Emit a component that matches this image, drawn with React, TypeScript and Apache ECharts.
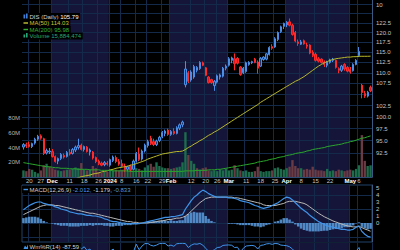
import React, { useEffect, useRef } from "react";
import * as echarts from "echarts";

// ---------- data ----------
const dates: string[] = [
  "2023-11-16","2023-11-17","2023-11-20","2023-11-21","2023-11-22","2023-11-24","2023-11-27","2023-11-28","2023-11-29","2023-11-30",
  "2023-12-01","2023-12-04","2023-12-05","2023-12-06","2023-12-07","2023-12-08","2023-12-11","2023-12-12","2023-12-13","2023-12-14",
  "2023-12-15","2023-12-18","2023-12-19","2023-12-20","2023-12-21","2023-12-22","2023-12-26","2023-12-27","2023-12-28","2023-12-29",
  "2024-01-02","2024-01-03","2024-01-04","2024-01-05","2024-01-08","2024-01-09","2024-01-10","2024-01-11","2024-01-12","2024-01-16",
  "2024-01-17","2024-01-18","2024-01-19","2024-01-22","2024-01-23","2024-01-24","2024-01-25","2024-01-26","2024-01-29","2024-01-30",
  "2024-01-31","2024-02-01","2024-02-02","2024-02-05","2024-02-06","2024-02-07","2024-02-08","2024-02-09","2024-02-12","2024-02-13",
  "2024-02-14","2024-02-15","2024-02-16","2024-02-20","2024-02-21","2024-02-22","2024-02-23","2024-02-26","2024-02-27","2024-02-28",
  "2024-02-29","2024-03-01","2024-03-04","2024-03-05","2024-03-06","2024-03-07","2024-03-08","2024-03-11","2024-03-12","2024-03-13",
  "2024-03-14","2024-03-15","2024-03-18","2024-03-19","2024-03-20","2024-03-21","2024-03-22","2024-03-25","2024-03-26","2024-03-27",
  "2024-03-28","2024-04-01","2024-04-02","2024-04-03","2024-04-04","2024-04-05","2024-04-08","2024-04-09","2024-04-10","2024-04-11",
  "2024-04-12","2024-04-15","2024-04-16","2024-04-17","2024-04-18","2024-04-19","2024-04-22","2024-04-23","2024-04-24","2024-04-25",
  "2024-04-26","2024-04-29","2024-04-30","2024-05-01","2024-05-02","2024-05-03","2024-05-06","2024-05-07","2024-05-08","2024-05-09",
  "2024-05-10",
];

// [open, high, low, close]
const ohlc: number[][] = [
  [93.7,94.5,93.2,94.2],[94.2,94.6,93.5,93.9],[94.2,94.8,93.6,93.8],[93.8,94.6,93.5,94.4],[94.5,95.6,94.2,95.3],[95.3,96.2,95.0,95.9],[96.0,96.3,95.2,95.5],[95.4,95.6,92.1,92.4],[92.5,93.4,92.2,93.0],[92.7,93.5,92.3,92.9],
  [92.8,93.3,91.6,91.8],[91.8,92.0,90.6,90.8],[90.9,91.6,90.3,91.4],[91.4,92.5,91.1,92.2],[92.0,92.4,91.4,91.7],[91.8,92.9,91.6,92.6],[92.6,93.3,92.0,92.3],[92.4,93.5,92.2,93.2],[93.1,94.0,92.7,93.7],[93.6,95.4,93.2,94.0],
  [94.1,94.4,93.0,93.2],[93.2,94.0,92.8,93.8],[93.7,93.9,92.6,92.8],[92.7,93.4,92.0,93.1],[92.7,92.9,91.2,91.5],[91.6,91.8,90.5,90.8],[90.9,91.2,90.1,90.4],[90.5,90.8,89.9,90.1],[90.2,90.9,89.9,90.6],[90.5,90.9,90.0,90.3],
  [90.1,91.4,89.8,91.2],[91.0,92.0,90.7,91.7],[91.6,92.0,90.5,90.8],[90.8,91.3,90.0,90.3],[90.4,91.2,89.6,89.9],[89.9,90.4,88.8,89.3],[89.3,90.0,88.9,89.8],[89.9,90.2,88.9,89.2],[89.3,91.2,89.1,90.9],[90.9,92.7,90.6,92.4],
  [92.3,93.6,90.9,91.2],[91.3,93.2,91.0,92.9],[92.9,94.4,92.6,94.1],[94.0,95.2,93.6,94.8],[95.5,96.0,94.1,94.4],[94.8,95.4,93.9,94.2],[94.2,95.2,93.9,94.9],[95.0,96.0,94.7,95.7],[95.8,97.0,95.5,96.7],[96.5,97.3,95.9,97.0],
  [97.2,97.5,96.0,96.3],[96.3,97.2,96.0,96.9],[96.9,97.6,96.2,96.5],[96.5,98.0,96.3,97.7],[97.6,98.6,97.2,98.3],[98.3,99.2,97.8,98.9],[107.2,112.8,106.6,110.9],[110.0,110.4,107.6,108.0],[108.3,110.6,107.9,110.2],[109.0,111.9,108.6,111.5],
  [110.6,111.6,110.1,111.3],[111.0,112.8,110.7,112.5],[112.4,112.7,111.6,111.8],[111.2,111.4,109.2,109.4],[109.0,109.2,107.5,107.7],[108.4,108.6,107.4,107.7],[107.0,108.3,105.8,108.0],[107.8,109.6,107.5,109.3],[109.0,109.8,108.4,109.5],[109.2,111.4,108.9,111.1],
  [111.1,112.0,110.6,111.6],[111.8,113.8,111.5,113.4],[113.0,113.9,112.3,113.6],[113.4,114.7,110.6,112.2],[113.5,113.8,112.0,112.3],[111.4,111.6,109.3,109.6],[110.0,111.4,109.7,111.1],[110.3,112.7,110.0,112.4],[112.0,112.8,111.7,112.5],[112.4,112.9,112.1,112.7],
  [113.3,113.6,112.3,112.5],[112.6,113.0,109.8,111.1],[111.6,113.8,111.4,113.5],[113.2,114.0,112.9,113.8],[113.3,114.8,113.0,114.6],[114.4,116.5,114.2,116.2],[116.4,117.0,115.6,116.0],[116.3,118.8,116.1,118.4],[118.2,120.3,117.8,120.0],[120.2,121.8,119.9,121.5],
  [121.6,122.6,120.9,122.4],[122.0,123.0,121.4,122.7],[122.8,123.7,121.6,121.9],[121.9,122.3,119.2,119.5],[120.0,120.4,117.5,117.8],[117.6,118.2,116.6,117.2],[117.0,118.1,116.8,117.6],[117.9,118.2,116.9,117.1],[116.8,117.4,115.9,116.5],[116.8,117.0,114.5,114.8],
  [115.0,115.5,113.8,114.2],[114.5,114.9,112.7,113.0],[113.4,113.8,112.5,112.8],[113.3,113.5,112.2,112.5],[112.6,113.0,111.4,112.0],[111.8,112.9,111.3,112.6],[112.5,113.4,112.2,113.1],[113.0,113.6,112.6,113.3],[113.0,113.2,111.0,111.3],[111.0,111.3,109.9,110.6],
  [110.6,111.9,110.2,111.6],[112.0,112.3,110.5,110.9],[111.3,111.6,110.1,110.4],[110.8,111.4,109.8,110.2],[110.5,112.3,110.3,112.0],[112.0,113.3,111.8,113.0],[114.2,116.3,113.8,115.2],[107.1,107.4,104.1,105.4],[105.2,105.8,104.2,104.6],[104.6,105.8,104.3,105.5],
  [106.6,107.0,105.5,105.79],
];

// volume, millions of shares
const volumeM: number[] = [
  9, 8, 11, 10, 7, 5, 9, 16, 18, 14,
  12, 10, 9, 8, 9, 10, 10, 11, 13, 12,
  19, 10, 9, 10, 15, 12, 7, 6, 7, 7,
  10, 9, 10, 9, 10, 11, 9, 10, 9, 12,
  11, 9, 13, 16, 18, 14, 20, 15, 13, 12,
  12, 11, 12, 13, 14, 20, 61, 30, 22, 18,
  12, 10, 12, 13, 9, 8, 9, 8, 10, 9,
  11, 9, 10, 16, 12, 9, 8, 9, 7, 7,
  8, 14, 8, 7, 8, 8, 9, 12, 13, 11,
  10, 12, 14, 23, 15, 12, 12, 10, 11, 10,
  14, 10, 9, 9, 8, 11, 8, 9, 8, 10,
  9, 8, 9, 10, 9, 11, 16, 57, 22, 15,
  15.884474,
];

const ma50: number[] = [
  85.4, 85.5, 85.6, 85.7, 85.8, 86.0, 86.1, 86.2, 86.3, 86.5,
  86.6, 86.7, 86.8, 86.9, 87.0, 87.1, 87.3, 87.4, 87.5, 87.7,
  87.9, 88.0, 88.1, 88.2, 88.4, 88.5, 88.6, 88.8, 88.9, 89.0,
  89.2, 89.3, 89.5, 89.6, 89.7, 89.8, 89.9, 90.1, 90.2, 90.4,
  90.6, 90.8, 91.0, 91.3, 91.5, 91.7, 91.9, 92.1, 92.3, 92.4,
  92.5, 92.6, 92.7, 92.8, 92.8, 92.9, 93.2, 93.6, 93.9, 94.3,
  94.6, 95.0, 95.3, 95.7, 96.1, 96.4, 96.8, 97.1, 97.5, 97.9,
  98.3, 98.7, 99.1, 99.5, 99.9, 100.3, 100.7, 101.1, 101.5, 101.9,
  102.3, 102.7, 103.2, 103.6, 104.0, 104.4, 104.8, 105.2, 105.6, 106.0,
  106.4, 106.8, 107.2, 107.6, 108.0, 108.3, 108.7, 109.1, 109.6, 110.1,
  110.6, 111.1, 111.6, 112.0, 112.4, 112.7, 113.0, 113.2, 113.4, 113.5,
  113.6, 113.7, 113.8, 113.8, 113.9, 113.9, 114.0, 114.0, 114.0, 114.0,
  114.03,
];

const ma200: number[] = [
  90.6, 90.5, 90.4, 90.3, 90.2, 90.1, 90.0, 89.9, 89.8, 89.8,
  89.7, 89.6, 89.6, 89.5, 89.5, 89.5, 89.4, 89.4, 89.4, 89.3,
  89.3, 89.3, 89.3, 89.2, 89.2, 89.2, 89.2, 89.1, 89.1, 89.1,
  89.1, 89.0, 89.0, 89.0, 89.0, 89.0, 89.0, 88.9, 88.9, 88.9,
  88.9, 88.9, 88.9, 88.9, 88.9, 88.9, 88.9, 88.9, 88.9, 88.9,
  88.9, 88.9, 88.9, 88.9, 88.9, 88.9, 89.0, 89.0, 89.0, 89.0,
  89.1, 89.1, 89.1, 89.1, 89.2, 89.2, 89.2, 89.3, 89.3, 89.4,
  89.5, 89.6, 89.7, 89.8, 89.9, 90.0, 90.1, 90.2, 90.3, 90.4,
  90.5, 90.7, 90.8, 90.9, 91.0, 91.2, 91.3, 91.4, 91.6, 91.7,
  91.8, 92.0, 92.1, 92.2, 92.4, 92.5, 92.6, 92.7, 92.9, 93.0,
  93.2, 93.3, 93.4, 93.5, 93.6, 93.8, 93.9, 94.0, 94.1, 94.2,
  94.3, 94.5, 94.6, 94.8, 94.9, 95.1, 95.3, 95.5, 95.6, 95.8,
  95.98,
];

const macdLine: number[] = [
  1.9, 2.2, 2.5, 2.7, 2.9, 3.0, 3.0, 2.8, 2.7, 2.6,
  2.5, 2.3, 2.2, 2.0, 1.9, 1.8, 1.6, 1.5, 1.4, 1.3,
  1.3, 1.2, 1.1, 1.1, 1.0, 1.0, 0.9, 0.8, 0.6, 0.5,
  0.3, 0.2, 0.2, 0.1, 0.0, 0.0, -0.1, -0.1, -0.1, -0.1,
  -0.1, 0.0, 0.1, 0.2, 0.3, 0.4, 0.5, 0.6, 0.7, 0.8,
  0.8, 0.9, 0.9, 1.0, 1.1, 1.2, 2.0, 2.6, 3.2, 3.7,
  4.0, 4.4, 4.7, 4.5, 4.2, 4.0, 3.8, 3.7, 3.7, 3.7,
  3.7, 3.6, 3.6, 3.5, 3.4, 3.2, 3.1, 3.0, 2.9, 2.7,
  2.5, 2.4, 2.2, 2.1, 2.2, 2.3, 2.5, 2.7, 2.9, 3.2,
  3.5, 3.7, 3.6, 3.3, 2.9, 2.5, 2.1, 1.8, 1.5, 1.1,
  0.8, 0.5, 0.2, 0.0, -0.2, -0.4, -0.5, -0.6, -0.7, -0.8,
  -0.9, -0.9, -1.0, -1.0, -0.9, -0.6, -0.4, -1.2, -1.6, -1.9,
  -2.012,
];

const signalLine: number[] = [
  1.2, 1.4, 1.6, 1.8, 2.0, 2.2, 2.4, 2.5, 2.6, 2.6,
  2.6, 2.5, 2.5, 2.4, 2.3, 2.2, 2.1, 2.0, 1.9, 1.8,
  1.7, 1.6, 1.5, 1.4, 1.4, 1.3, 1.2, 1.1, 1.0, 0.9,
  0.8, 0.7, 0.6, 0.5, 0.4, 0.3, 0.2, 0.2, 0.1, 0.1,
  0.0, 0.0, 0.0, 0.0, 0.1, 0.1, 0.2, 0.3, 0.3, 0.4,
  0.5, 0.5, 0.6, 0.7, 0.7, 0.8, 1.0, 1.3, 1.7, 2.1,
  2.5, 2.9, 3.2, 3.5, 3.6, 3.7, 3.7, 3.7, 3.7, 3.7,
  3.7, 3.7, 3.7, 3.6, 3.6, 3.5, 3.4, 3.3, 3.2, 3.1,
  3.0, 2.9, 2.8, 2.6, 2.5, 2.5, 2.5, 2.5, 2.6, 2.7,
  2.8, 3.0, 3.1, 3.1, 3.1, 3.0, 2.9, 2.8, 2.6, 2.3,
  2.0, 1.7, 1.4, 1.15, 0.9, 0.7, 0.5, 0.3, 0.15, 0.0,
  -0.15, -0.3, -0.4, -0.5, -0.55, -0.55, -0.5, -0.65, -0.85, -1.0,
  -1.179,
];

const willR: number[] = [
  -15, -25, -18, -15, -8, -5, -20, -75, -55, -60,
  -75, -90, -70, -50, -65, -45, -55, -35, -20, -15,
  -40, -25, -50, -40, -75, -90, -95, -95, -80, -85,
  -55, -40, -70, -80, -90, -95, -85, -95, -60, -8,
  -45, -20, -4, -3, -15, -20, -14, -4, -2, -3,
  -20, -14, -22, -5, -3, -2, -4, -30, -15, -6,
  -8, -3, -14, -35, -55, -55, -45, -30, -28, -16,
  -14, -13, -15, -30, -28, -60, -35, -20, -18, -16,
  -20, -40, -16, -13, -6, -4, -9, -3, -5, -14,
  -16, -18, -25, -40, -60, -62, -55, -60, -70, -85,
  -90, -95, -95, -97, -98, -85, -75, -70, -90, -95,
  -80, -88, -92, -95, -70, -55, -30, -95, -98, -90,
  -87.59,
];

const tickDates: string[] = [
  "2023-11-20","2023-11-27","2023-12-01","2023-12-11","2023-12-18","2023-12-26","2024-01-02","2024-01-08","2024-01-16",
  "2024-01-22","2024-01-29","2024-02-01","2024-02-12","2024-02-20","2024-02-26","2024-03-01","2024-03-11","2024-03-18",
  "2024-03-25","2024-04-01","2024-04-08","2024-04-15","2024-04-22","2024-05-01","2024-05-06",
];
const tickTexts: string[] = [
  "20","27","Dec","11","18","26","2024","8","16",
  "22","29","Feb","12","20","26","Mar","11","18",
  "25","Apr","8","15","22","May","6",
];
const boldTickTexts: string[] = ["Dec", "2024", "Feb", "Mar", "Apr", "May"];
const monthStarts: string[] = ["2023-12-01","2024-01-02","2024-02-01","2024-03-01","2024-04-01","2024-05-01"];

// 105.0 sits under the last-price tag in the reference, so only its grid line is drawn
const priceLabels: number[] = [92.5, 95, 97.5, 100, 102.5, 107.5, 110, 112.5, 115, 117.5, 120, 122.5];
const priceGridValues: number[] = [92.5, 95, 97.5, 100, 102.5, 105, 107.5, 110, 112.5, 115, 117.5, 120, 122.5, 125, 127.5];
const priceRange: number[] = [87.83, 128.74];
const volumeLabels: number[] = [20, 40, 60, 80];
const volumeRange: number[] = [0, 241];
const macdLabels: number[] = [0, 1, 2, 3, 4, 5];
const macdGridValues: number[] = [-2, 0, 2, 4];
const macdRange: number[] = [-2.71, 5.43];

// ---------- styling ----------
const FONT = '"Liberation Sans", Arial, Helvetica, sans-serif';
const GRID_LINE = "#142a4a";
const NAVY = "#15153a";
const AXIS_TEXT = "#c4c4c4";
const ln = Math.log;

function buildOption() {
  const last = dates.length - 1;
  const tickMap: Record<string, string> = {};
  tickDates.forEach((d, k) => (tickMap[d] = tickTexts[k]));
  const monthSet = new Set(monthStarts);
  const isTick = (i: number) => tickMap[dates[i]] !== undefined;
  const isBand = (i: number) => i === 0 || monthSet.has(dates[i]);

  const closes = ohlc.map((r) => r[3]);
  const hist = macdLine.map((m, i) => +(m - signalLine[i]).toFixed(3));

  const xAxis = (gridIndex: number, withLabels: boolean) => ({
    type: "category",
    gridIndex,
    data: dates,
    boundaryGap: true,
    axisTick: { show: false },
    axisLine: { show: withLabels, lineStyle: { color: "#2b4a74", width: 1 } },
    axisLabel: withLabels
      ? {
          show: true,
          interval: (i: number) => isTick(i),
          formatter: (v: string) => {
            const t = tickMap[v];
            if (!t) return "";
            return boldTickTexts.includes(t) ? `{m|${t}}` : t;
          },
          color: AXIS_TEXT,
          fontSize: 6,
          fontFamily: FONT,
          margin: 1,
          rich: { m: { fontWeight: "bold", color: "#ffffff", fontSize: 6, fontFamily: FONT } },
        }
      : { show: false },
    splitLine: { show: true, interval: (i: number) => isTick(i), lineStyle: { color: GRID_LINE, width: 1 } },
    splitArea: { show: true, interval: (i: number) => isBand(i), areaStyle: { color: ["rgba(0,0,0,0)", NAVY] } },
  });

  const tag = (value: number, text: string, s: any) => ({
    silent: true,
    symbol: ["none", "none"],
    precision: 6,
    lineStyle: { opacity: 0, width: 0 },
    emphasis: { disabled: true },
    label: {
      show: true,
      position: "end",
      distance: 0,
      formatter: text,
      color: s.color,
      backgroundColor: s.bg,
      borderColor: s.border,
      borderWidth: 1,
      padding: [1, 2, 0, 2],
      fontSize: 6,
      lineHeight: 6,
      fontFamily: FONT,
      fontWeight: s.bold ? "bold" : "normal",
      offset: s.offset || [0, 0],
    },
    data: [{ yAxis: value }],
  });

  const legendFont = `6px ${FONT}`;
  const legendRow = (y: number, text: string, rich: any, fill: string) => ({
    type: "text",
    x: 22,
    y,
    z: 100,
    silent: true,
    style: {
      text,
      rich,
      fill,
      font: legendFont,
      verticalAlign: "middle",
      backgroundColor: "#000",
      padding: [0.5, 1.5, 0.5, 7.5],
    },
  });
  const r = (fill: string, bold?: boolean) => ({ fill, font: `${bold ? "bold " : ""}${legendFont}` });

  const volText = Math.round(volumeM[last] * 1e6);

  const graphic = [
    legendRow(16.5, `{a|DIS (Daily)} {b|${closes[last].toFixed(2)}}`, { a: r("#d2d2d2"), b: r("#ffffff") }, "#d2d2d2"),
    legendRow(23, `MA(50) ${ma50[last].toFixed(2)}`, null, "#c6c634"),
    legendRow(29.5, `MA(200) ${ma200[last].toFixed(2)}`, null, "#33b033"),
    legendRow(36, `Volume ${volText.toLocaleString("en-US")}`, null, "#25a67a"),
    legendRow(
      189.5,
      `{a|MACD(12,26,9)} {b|${macdLine[last].toFixed(3)},} {c|${signalLine[last].toFixed(3)},} {d|${hist[last].toFixed(3)}}`,
      { a: r("#cfcfcf"), b: r("#4c9cec"), c: r("#d8d8d8"), d: r("#5b9ad6") },
      "#cfcfcf"
    ),
    legendRow(246.5, `{a|Wm%R(14)} {b|${willR[last].toFixed(2)}}`, { a: r("#cfcfcf"), b: r("#d8d8d8") }, "#cfcfcf"),
    { type: "rect", z: 101, silent: true, shape: { x: 23.5, y: 14.5, width: 1.6, height: 4 }, style: { fill: "#3c82dc" } },
    { type: "rect", z: 101, silent: true, shape: { x: 26, y: 13.5, width: 1.6, height: 5 }, style: { fill: "#3c82dc" } },
    { type: "line", z: 101, silent: true, shape: { x1: 23.5, y1: 23, x2: 28, y2: 23 }, style: { stroke: "#c6c634", lineWidth: 1.4 } },
    { type: "line", z: 101, silent: true, shape: { x1: 23.5, y1: 29.5, x2: 28, y2: 29.5 }, style: { stroke: "#33b033", lineWidth: 1.4 } },
    { type: "rect", z: 101, silent: true, shape: { x: 23.5, y: 34.5, width: 1.6, height: 3 }, style: { fill: "#25a67a" } },
    { type: "rect", z: 101, silent: true, shape: { x: 26, y: 33, width: 1.6, height: 4.5 }, style: { fill: "#25a67a" } },
    { type: "line", z: 101, silent: true, shape: { x1: 23.5, y1: 189.5, x2: 28, y2: 189.5 }, style: { stroke: "#3f94ea", lineWidth: 1.4 } },
    {
      type: "polygon", z: 101, silent: true,
      shape: { points: [[23.5, 249], [25, 245.5], [26.5, 247.5], [28, 244.5], [28, 249]] },
      style: { fill: "#3f94ea" },
    },
    { type: "text", x: 376, y: 5, z: 100, silent: true, style: { text: "10", fill: AXIS_TEXT, font: legendFont, verticalAlign: "middle" } },
  ];

  return {
    animation: false,
    backgroundColor: "#000",
    textStyle: { fontFamily: FONT },
    grid: [
      { left: 22, right: 28, top: 0, height: 177, show: false },
      { left: 22, right: 28, top: 185, height: 57, show: true, borderColor: "#22426a", borderWidth: 1, backgroundColor: "transparent" },
      { left: 22, right: 28, top: 243, height: 60, show: false },
    ],
    xAxis: [xAxis(0, true), xAxis(1, false), xAxis(2, false)],
    yAxis: [
      {
        type: "value", gridIndex: 0, position: "right", z: 1,
        min: ln(priceRange[0]), max: ln(priceRange[1]),
        axisLine: { show: true, lineStyle: { color: "#3a5a82" } },
        axisTick: { show: false, customValues: priceGridValues.map(ln) },
        axisLabel: {
          customValues: priceLabels.map(ln),
          formatter: (v: number) => Math.exp(v).toFixed(1),
          color: AXIS_TEXT, fontSize: 6, fontFamily: FONT, margin: 4,
        },
        splitLine: { show: true, lineStyle: { color: GRID_LINE, width: 1 } },
      },
      {
        type: "value", gridIndex: 0, position: "left",
        min: volumeRange[0], max: volumeRange[1],
        axisLine: { show: false }, axisTick: { show: false },
        axisLabel: { customValues: volumeLabels, formatter: (v: number) => `${v}M`, color: "#b4b4b4", fontSize: 6, fontFamily: FONT, margin: 2 },
        splitLine: { show: false },
      },
      {
        type: "value", gridIndex: 1, position: "right", z: 1,
        min: macdRange[0], max: macdRange[1],
        axisLine: { show: true, lineStyle: { color: "#3a5a82" } },
        axisTick: { show: false, customValues: macdGridValues },
        axisLabel: { customValues: macdLabels, formatter: (v: number) => String(v), color: AXIS_TEXT, fontSize: 6, fontFamily: FONT, margin: 4 },
        splitLine: { show: true, lineStyle: { color: GRID_LINE, width: 1 } },
      },
      { type: "value", gridIndex: 2, min: -100, max: 0, show: false, splitLine: { show: false } },
    ],
    series: [
      {
        name: "Volume", type: "bar", xAxisIndex: 0, yAxisIndex: 1, silent: true, z: 1,
        barCategoryGap: "18%",
        data: volumeM.map((v, i) => ({
          value: v,
          itemStyle: { color: closes[i] >= (i > 0 ? closes[i - 1] : ohlc[i][0]) ? "#1d6c4c" : "#6a3b45" },
        })),
        markLine: tag(volumeM[last], String(volText), { color: "#a8c8f0", bg: "#0a1630", border: "#2f6fc4" }),
      },
      {
        name: "DIS", type: "candlestick", xAxisIndex: 0, yAxisIndex: 0, silent: true, z: 3,
        barWidth: "62%",
        data: ohlc.map(([o, h, l, c]) => [ln(o), ln(c), ln(l), ln(h)]),
        itemStyle: { color: "#163a78", color0: "#e3141b", borderColor: "#4c8ee6", borderColor0: "#ff2a2a", borderWidth: 1 },
        markLine: tag(ln(closes[last]), closes[last].toFixed(2), { color: "#ffffff", bg: "#0d1a3c", border: "#c8d0de", bold: true }),
      },
      {
        name: "MA(50)", type: "line", xAxisIndex: 0, yAxisIndex: 0, silent: true, z: 4,
        data: ma50.map(ln), showSymbol: false, symbol: "none",
        lineStyle: { color: "#b8b82a", width: 1 },
        markLine: tag(ln(ma50[last]), ma50[last].toFixed(2), { color: "#e6e68c", bg: "#0a0a00", border: "#b8b82a", offset: [0, 1] }),
      },
      {
        name: "MA(200)", type: "line", xAxisIndex: 0, yAxisIndex: 0, silent: true, z: 4,
        data: ma200.map(ln), showSymbol: false, symbol: "none",
        lineStyle: { color: "#2aa62a", width: 1 },
        markLine: tag(ln(ma200[last]), ma200[last].toFixed(2), { color: "#b8f0b8", bg: "#001000", border: "#2e9a2e" }),
      },
      {
        name: "Hist", type: "bar", xAxisIndex: 1, yAxisIndex: 2, silent: true, z: 2,
        barCategoryGap: "12%",
        data: hist,
        itemStyle: { color: "rgba(88,150,214,0.9)" },
        markLine: tag(hist[last], hist[last].toFixed(3), { color: "#0a0a20", bg: "#6aa4dc", border: "#6aa4dc", offset: [0, -0.5] }),
      },
      {
        name: "Signal", type: "line", xAxisIndex: 1, yAxisIndex: 2, silent: true, z: 3,
        data: signalLine, showSymbol: false, symbol: "none",
        lineStyle: { color: "#b9b9b9", width: 1 },
        markLine: tag(signalLine[last], signalLine[last].toFixed(3), { color: "#ffffff", bg: "#101010", border: "#bdbdbd", offset: [0, 2] }),
      },
      {
        name: "MACD", type: "line", xAxisIndex: 1, yAxisIndex: 2, silent: true, z: 4,
        data: macdLine, showSymbol: false, symbol: "none",
        lineStyle: { color: "#3f94ea", width: 1.2 },
        markLine: tag(macdLine[last], macdLine[last].toFixed(3), { color: "#b0d0f8", bg: "#0a1630", border: "#3a86d8", offset: [0, 1] }),
      },
      {
        name: "Wm%R", type: "line", xAxisIndex: 2, yAxisIndex: 3, silent: true, z: 3,
        data: willR, showSymbol: false, symbol: "none",
        lineStyle: { color: "#3f94ea", width: 1 },
      },
    ],
    graphic,
  };
}

export default function App() {
  const ref = useRef<HTMLDivElement>(null);
  useEffect(() => {
    const chart = echarts.init(ref.current as HTMLDivElement, null, { renderer: "svg" });
    chart.setOption(buildOption() as any);
    return () => chart.dispose();
  }, []);
  return (
    <div
      ref={ref}
      style={{ position: "fixed", left: 0, top: 0, width: 400, height: 250, background: "#000" }}
    />
  );
}
